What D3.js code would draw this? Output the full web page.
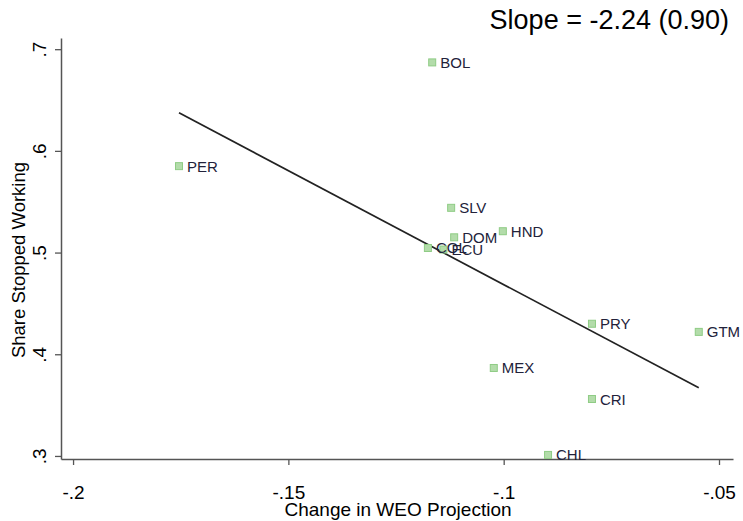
<!DOCTYPE html>
<html>
<head>
<meta charset="utf-8">
<script src="https://cdn.jsdelivr.net/npm/d3@7"></script>
<style>
  body { margin: 0; background: #fff; }
  svg { display: block; font-family: "Liberation Sans", Arial, sans-serif; }
</style>
</head>
<body>
<svg id="mySvg"></svg>
<script>
// country codes and values
var countries = ["BOL", "PER", "SLV", "DOM", "HND", "COL", "ECU", "MEX", "PRY", "GTM", "CRI", "CHL"];
var weoChange = [-0.1166, -0.1754, -0.1122, -0.1115, -0.1002, -0.1176, -0.1140, -0.1023, -0.0795, -0.0547, -0.0795, -0.0897];
var shareStopped = [0.687, 0.585, 0.544, 0.515, 0.521, 0.5045, 0.503, 0.3865, 0.430, 0.422, 0.356, 0.301];
var xTicks = [-0.2, -0.15, -0.1, -0.05];
var xTickLabels = ["-.2", "-.15", "-.1", "-.05"];
var yTicks = [0.3, 0.4, 0.5, 0.6, 0.7];
var yTickLabels = [".3", ".4", ".5", ".6", ".7"];
var fitSlope = -2.24;
var fitIntercept = 0.2445;
var slopeText = "Slope = -2.24 (0.90)";

var width = 743, height = 521;
var svg = d3.select("#mySvg").attr("width", width).attr("height", height);

var data = countries.map((c, i) => ({ code: c, x: weoChange[i], y: shareStopped[i] }));

var xScale = d3.scaleLinear().domain([-0.2028, -0.04675]).range([61, 733]);
var yScale = d3.scaleLinear().domain([0.297, 0.711]).range([459, 38]);

// x axis
svg.append("g")
    .attr("transform", "translate(0,459)")
    .call(d3.axisBottom(xScale).tickValues(xTicks).tickFormat((d, i) => xTickLabels[i]).tickSize(6).tickSizeOuter(0))
    .call(g => g.select(".domain").attr("stroke", "#555").attr("stroke-width", 1.5))
    .call(g => g.selectAll(".tick line").attr("stroke", "#555").attr("stroke-width", 1.3))
    .call(g => g.selectAll(".tick text")
        .attr("fill", "#000").attr("font-size", 19).attr("font-family", "Liberation Sans, Arial, sans-serif")
        .attr("dy", null).attr("y", 40));

// y axis
svg.append("g")
    .attr("transform", "translate(61,0)")
    .call(d3.axisLeft(yScale).tickValues(yTicks).tickFormat((d, i) => yTickLabels[i]).tickSize(6).tickSizeOuter(0))
    .call(g => g.select(".domain").attr("stroke", "#555").attr("stroke-width", 1.5))
    .call(g => g.selectAll(".tick line").attr("stroke", "#555").attr("stroke-width", 1.3))
    .call(g => g.selectAll(".tick text")
        .attr("fill", "#000").attr("font-size", 19).attr("font-family", "Liberation Sans, Arial, sans-serif")
        .attr("x", null).attr("dy", null)
        .attr("text-anchor", "middle")
        .attr("transform", "translate(-15,0) rotate(-90)"));

// fit line across the data range
var xMin = d3.min(weoChange), xMax = d3.max(weoChange);
svg.append("line")
    .attr("x1", xScale(xMin)).attr("y1", yScale(fitIntercept + fitSlope * xMin))
    .attr("x2", xScale(xMax)).attr("y2", yScale(fitIntercept + fitSlope * xMax))
    .attr("stroke", "#222").attr("stroke-width", 1.7);

// markers
svg.append("g").selectAll("rect").data(data).join("rect")
    .attr("x", d => xScale(d.x) - 3.5)
    .attr("y", d => yScale(d.y) - 3.5)
    .attr("width", 7).attr("height", 7)
    .attr("fill", "#b3dcaa")
    .attr("stroke", "#8fcc85").attr("stroke-width", 1);

// labels
svg.append("g").selectAll("text").data(data).join("text")
    .attr("x", d => xScale(d.x) + 8)
    .attr("y", d => yScale(d.y) + 5.5)
    .attr("font-size", 15)
    .attr("fill", "#22223a")
    .text(d => d.code);

// axis titles
svg.append("text")
    .attr("x", 398).attr("y", 516)
    .attr("text-anchor", "middle").attr("font-size", 19).attr("fill", "#000")
    .text("Change in WEO Projection");
svg.append("text")
    .attr("transform", "translate(25,260) rotate(-90)")
    .attr("text-anchor", "middle").attr("font-size", 18.5).attr("fill", "#000")
    .text("Share Stopped Working");

// slope annotation
svg.append("text")
    .attr("x", 729).attr("y", 29)
    .attr("text-anchor", "end").attr("font-size", 27).attr("fill", "#000")
    .text(slopeText);
</script>
</body>
</html>
